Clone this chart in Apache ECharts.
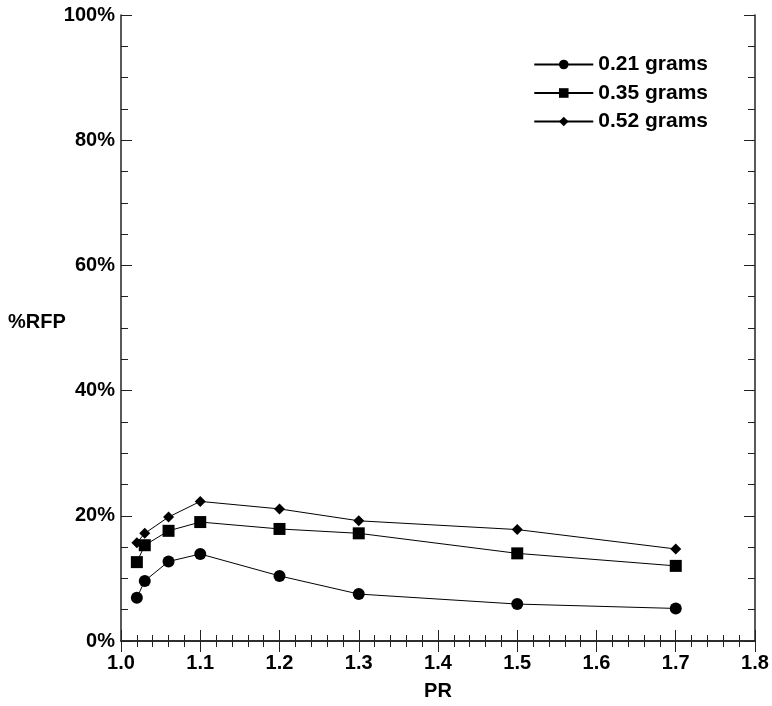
<!DOCTYPE html>
<html><head><meta charset="utf-8">
<script src="https://cdn.jsdelivr.net/npm/echarts@6/dist/echarts.min.js"></script>
<style>html,body{margin:0;padding:0;background:#fff}#c{width:772px;height:706px}</style>
</head><body><div id="c"></div>
<script>
const prValues = [1.02, 1.03, 1.06, 1.1, 1.2, 1.3, 1.5, 1.7];
const seriesNames = ['0.21 grams', '0.35 grams', '0.52 grams'];
const rfp021 = [6.9, 9.6, 12.7, 13.9, 10.4, 7.5, 5.9, 5.2];
const rfp035 = [12.6, 15.3, 17.6, 19.0, 17.9, 17.2, 14.0, 12.0];
const rfp052 = [15.7, 17.2, 19.8, 22.3, 21.1, 19.2, 17.8, 14.7];
const xAxisName = 'PR';
const yAxisName = '%RFP';

const FONT = '"Liberation Sans", Arial, sans-serif';
const chart = echarts.init(document.getElementById('c'));
const pair = (vals) => prValues.map((x, i) => [x, vals[i]]);
const lbl = {fontFamily: FONT, fontWeight: 'bold', fontSize: 20, color: '#000'};
const axisLine = {show: true, lineStyle: {color: '#222', width: 1.5}};
const tick = {inside: true, length: 11, lineStyle: {color: '#222', width: 1}};
const xBase = {type: 'value', min: 1.0, max: 1.8, interval: 0.1, splitLine: {show: false},
  axisLine, axisTick: tick,
  minorTick: {show: true, splitNumber: 5, length: 6, lineStyle: {color: '#222', width: 1}}};
const yBase = {type: 'value', min: 0, max: 100, interval: 20, splitLine: {show: false},
  axisLine, axisTick: tick,
  minorTick: {show: true, splitNumber: 4, length: 7, lineStyle: {color: '#222', width: 1}}};

const mk = (name, vals, symbol, size) => ({
  name, type: 'line', data: pair(vals), symbol, symbolSize: size,
  lineStyle: {color: '#000', width: 1}, itemStyle: {color: '#000'},
  emphasis: {disabled: true}, animation: false
});

chart.setOption({
  animation: false,
  grid: {left: 121, right: 17, top: 15, bottom: 61, containLabel: false},
  legend: {
    right: 59, top: 49, orient: 'vertical', itemGap: 7.5, itemWidth: 59, itemHeight: 12,
    textStyle: {fontFamily: FONT, fontWeight: 'bold', fontSize: 21, color: '#000'},
    data: seriesNames
  },
  xAxis: [
    Object.assign({}, xBase, {position: 'bottom', name: xAxisName, nameLocation: 'middle', nameGap: 40,
      nameTextStyle: lbl, axisLabel: Object.assign({margin: 12, formatter: v => v.toFixed(1)}, lbl)}),
    Object.assign({}, xBase, {position: 'top', axisLabel: {show: false}})
  ],
  yAxis: [
    Object.assign({}, yBase, {position: 'left', axisLabel: Object.assign({margin: 6, formatter: v => v + '%'}, lbl)}),
    Object.assign({}, yBase, {position: 'right', axisLabel: {show: false}})
  ],
  graphic: [{type: 'text', left: 8, top: 312, style: {text: yAxisName, font: 'bold 20px ' + FONT, fill: '#000'}}],
  series: [
    mk(seriesNames[0], rfp021, 'circle', 12),
    mk(seriesNames[1], rfp035, 'rect', 12),
    mk(seriesNames[2], rfp052, 'diamond', 11)
  ]
});
</script></body></html>
